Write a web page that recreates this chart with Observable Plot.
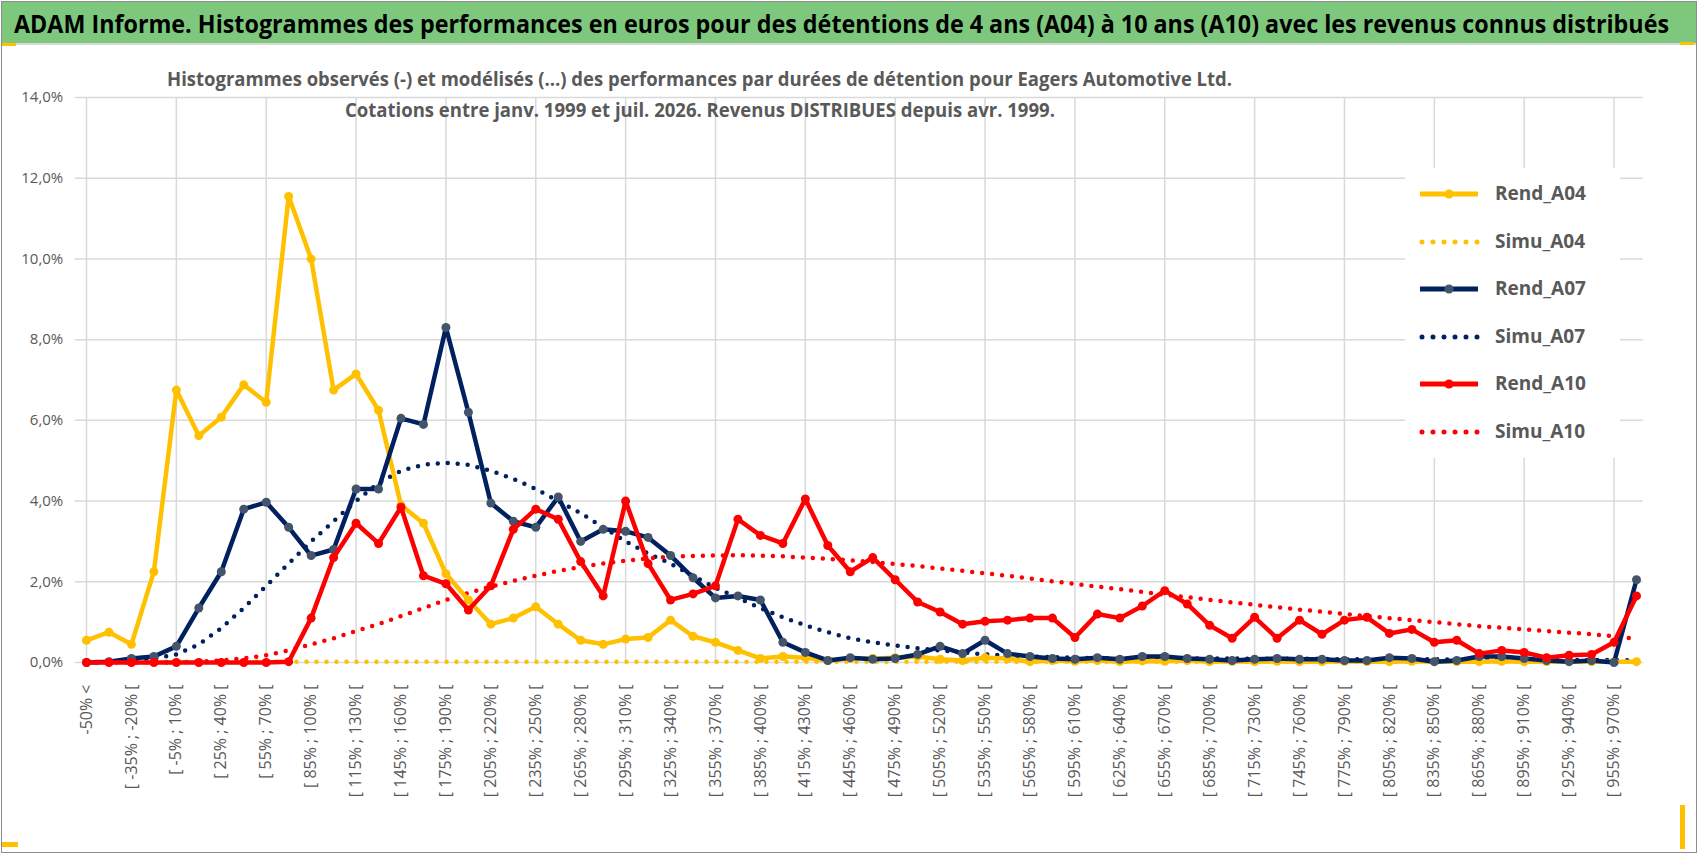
<!DOCTYPE html>
<html><head><meta charset="utf-8">
<script src="https://cdn.jsdelivr.net/npm/d3@7"></script>
<script src="https://cdn.jsdelivr.net/npm/@observablehq/plot@0.6"></script>
<style>
body{margin:0;background:#fff;font-family:"Open Sans",sans-serif;}
#wrap{position:relative;width:1698px;height:854px;overflow:hidden;}
#frame{position:absolute;left:1px;top:1px;width:1694px;height:850px;border:1px solid #8c8c8c;}
#banner{position:absolute;left:2px;top:2px;width:1694px;height:41px;background:#7dc87d;border-bottom:2px solid #d9d9d9;}
#title{position:absolute;left:12px;top:4px;font-weight:bold;font-size:25px;color:#000;white-space:nowrap;transform-origin:0 0;}
#plot{position:absolute;left:0;top:44px;}
#sub{position:absolute;left:0;width:1400px;top:64px;text-align:center;font-weight:bold;font-size:19px;color:#595959;line-height:31px;}
.sl{white-space:nowrap;display:inline-block;transform-origin:50% 0;}
#legend{position:absolute;left:1405px;top:168px;width:215px;height:290px;background:#fff;}
.li{position:absolute;left:13px;height:20px;}
.lt{position:absolute;left:77px;top:-14px;font-weight:bold;font-size:19px;color:#595959;white-space:nowrap;}
.corner{position:absolute;background:#ffc000;}
</style></head><body>
<div id="wrap">
<div id="frame"></div>
<div id="banner"><div id="title">ADAM Informe. Histogrammes des performances en euros pour des détentions de 4 ans (A04) à 10 ans (A10) avec les revenus connus distribués</div></div>
<div class="corner" style="left:2px;top:43px;width:14px;height:3px"></div>
<div class="corner" style="left:2px;top:842px;width:16px;height:5px"></div>
<div class="corner" style="left:1680px;top:805px;width:5px;height:44px"></div>
<div class="corner" style="left:1680px;top:42px;width:14px;height:3px"></div>
<div id="plot"></div>
<div id="sub"><span class="sl" id="s1">Histogrammes observés (-)  et modélisés (…) des performances  par durées de détention pour Eagers Automotive Ltd.</span><br><span class="sl" id="s2">Cotations entre janv. 1999 et juil. 2026. Revenus  DISTRIBUES depuis avr. 1999.</span></div>
<div id="legend"></div>
</div>
<script>
const tickLabels = ["-50% <","[ -35% ; -20% [","[ -5% ; 10% [","[ 25% ; 40% [","[ 55% ; 70% [","[ 85% ; 100% [","[ 115% ; 130% [","[ 145% ; 160% [","[ 175% ; 190% [","[ 205% ; 220% [","[ 235% ; 250% [","[ 265% ; 280% [","[ 295% ; 310% [","[ 325% ; 340% [","[ 355% ; 370% [","[ 385% ; 400% [","[ 415% ; 430% [","[ 445% ; 460% [","[ 475% ; 490% [","[ 505% ; 520% [","[ 535% ; 550% [","[ 565% ; 580% [","[ 595% ; 610% [","[ 625% ; 640% [","[ 655% ; 670% [","[ 685% ; 700% [","[ 715% ; 730% [","[ 745% ; 760% [","[ 775% ; 790% [","[ 805% ; 820% [","[ 835% ; 850% [","[ 865% ; 880% [","[ 895% ; 910% [","[ 925% ; 940% [","[ 955% ; 970% ["];
const yTicks = [0,2,4,6,8,10,12,14];

const rendA04 = [0.55,0.75,0.45,2.25,6.75,5.62,6.08,6.88,6.45,11.55,
 10.0,6.75,7.15,6.25,3.9,3.45,2.2,1.55,0.95,1.1,
 1.38,0.95,0.55,0.45,0.58,0.62,1.05,0.65,0.5,0.3,
 0.1,0.15,0.12,0.05,0.1,0.1,0.12,0.15,0.08,0.05,
 0.12,0.1,0.02,0.05,0.03,0.05,0.02,0.04,0.03,0.05,
 0.02,0.03,0.02,0.03,0.02,0.02,0.03,0.02,0.02,0.03,
 0.02,0.02,0.02,0.03,0.02,0.02,0.02,0.02,0.02,0.02];
const simuA04 = [0.02,0.02,0.02,0.02,0.02,0.02,0.02,0.02,0.02,0.02,
 0.02,0.02,0.02,0.02,0.02,0.02,0.02,0.02,0.02,0.02,
 0.02,0.02,0.02,0.02,0.02,0.02,0.02,0.02,0.02,0.02,
 0.02,0.02,0.02,0.02,0.02,0.02,0.02,0.02,0.02,0.02,
 0.02,0.02,0.02,0.02,0.02,0.02,0.02,0.02,0.02,0.02,
 0.02,0.02,0.02,0.02,0.02,0.02,0.02,0.02,0.02,0.02,
 0.02,0.02,0.02,0.02,0.02,0.02,0.02,0.02,0.02,0.02];
const rendA07 = [0,0.02,0.1,0.15,0.4,1.35,2.25,3.8,3.97,3.35,
 2.65,2.8,4.3,4.3,6.05,5.9,8.3,6.2,3.95,3.5,
 3.35,4.1,3.0,3.3,3.25,3.1,2.65,2.1,1.6,1.65,
 1.55,0.5,0.25,0.05,0.12,0.08,0.1,0.2,0.4,0.22,
 0.55,0.22,0.15,0.1,0.08,0.12,0.08,0.15,0.15,0.1,
 0.08,0.05,0.08,0.1,0.08,0.08,0.05,0.05,0.12,0.1,
 0.02,0.05,0.15,0.15,0.1,0.05,0.02,0.05,0.0,2.05];
const simuA07 = [0,0.02,0.05,0.1,0.2,0.45,0.85,1.35,1.9,2.45,
 3.0,3.5,4.0,4.45,4.75,4.9,4.95,4.9,4.75,4.55,
 4.3,4.0,3.7,3.35,3.0,2.7,2.45,2.15,1.85,1.6,
 1.35,1.12,0.92,0.75,0.6,0.5,0.42,0.35,0.3,0.25,
 0.2,0.17,0.15,0.13,0.12,0.11,0.1,0.1,0.1,0.1,
 0.1,0.1,0.09,0.09,0.09,0.09,0.08,0.08,0.08,0.08,
 0.08,0.07,0.07,0.07,0.07,0.06,0.06,0.06,0.06,0.05];
const rendA10 = [0,0,0,0,0,0,0,0,0,0.02,
 1.1,2.6,3.45,2.95,3.85,2.15,1.95,1.3,1.9,3.3,
 3.8,3.55,2.5,1.65,4.0,2.45,1.55,1.7,1.9,3.55,
 3.15,2.95,4.05,2.9,2.25,2.6,2.05,1.5,1.25,0.95,
 1.02,1.05,1.1,1.1,0.62,1.2,1.1,1.4,1.78,1.45,
 0.92,0.6,1.12,0.6,1.05,0.7,1.05,1.12,0.72,0.82,
 0.5,0.55,0.22,0.3,0.25,0.12,0.18,0.2,0.5,1.65];
const simuA10 = [0,0,0,0,0,0.02,0.05,0.1,0.18,0.3,
 0.45,0.6,0.78,0.95,1.15,1.35,1.55,1.72,1.88,2.02,
 2.15,2.27,2.37,2.45,2.52,2.58,2.62,2.64,2.65,2.66,
 2.65,2.63,2.6,2.57,2.53,2.49,2.44,2.39,2.33,2.27,
 2.21,2.15,2.08,2.01,1.95,1.88,1.82,1.75,1.68,1.62,
 1.55,1.49,1.43,1.37,1.31,1.26,1.2,1.15,1.1,1.05,
 1.0,0.95,0.9,0.86,0.82,0.78,0.74,0.7,0.65,0.58];

const YEL="#ffc000", NAVY="#002060", NAVYPT="#44546a", RED="#ff0000", GRID="#d9d9d9", TXT="#595959";
const pts = a => a.map((v,i)=>({i,v}));
const tickData = tickLabels.map((t,k)=>({i:2*k,t}));
const vGrid = tickLabels.map((t,k)=>4*k).filter(v=>v<=69);
const dotted = (a,c)=>Plot.line(pts(a),{x:"i",y:"v",stroke:c,strokeWidth:4.5,strokeDasharray:"0 10",strokeLinecap:"round"});
const solid = (a,c,pc)=>[Plot.line(pts(a),{x:"i",y:"v",stroke:c,strokeWidth:4.5}),
  Plot.dot(pts(a),{x:"i",y:"v",r:4.5,fill:pc,stroke:null})];

const chart = Plot.plot({
  width:1698, height:810,
  marginLeft:86, marginRight:62, marginTop:53, marginBottom:192,
  x:{type:"linear",domain:[0,69],axis:null},
  y:{domain:[0,14],axis:null},
  style:{fontFamily:"Open Sans, sans-serif",background:"transparent"},
  marks:[
    Plot.ruleY(yTicks,{x1:-0.5,x2:69.3,stroke:GRID,strokeWidth:1.5}),
    Plot.ruleX(vGrid,{y1:0,y2:14,stroke:GRID,strokeWidth:1.5}),
    Plot.text(yTicks,{x:-0.5,y:d=>d,text:d=>d.toFixed(1).replace(".",",")+"%",textAnchor:"end",dx:-12,fill:TXT,fontSize:15}),
    Plot.text(tickData,{x:"i",y:0,text:"t",rotate:-90,textAnchor:"end",dy:22,fill:TXT,fontSize:16}),
    dotted(simuA04,YEL), dotted(simuA07,NAVY), dotted(simuA10,RED),
    ...solid(rendA04,YEL,YEL), ...solid(rendA07,NAVY,NAVYPT), ...solid(rendA10,RED,RED)
  ]
});
document.getElementById("plot").append(chart);

const leg = [["Rend_A04",YEL,false],["Simu_A04",YEL,true],["Rend_A07",NAVY,false],["Simu_A07",NAVY,true],["Rend_A10",RED,false],["Simu_A10",RED,true]];
const L=document.getElementById("legend");
leg.forEach(([n,c,d],k)=>{
  const y=26+k*47.5;
  const svg = d ? `<svg width="62" height="12" style="position:absolute;left:0;top:-6px"><line x1="4" y1="6" x2="60" y2="6" stroke="${c}" stroke-width="5" stroke-dasharray="0 11" stroke-linecap="round"/></svg>`
   : `<svg width="62" height="12" style="position:absolute;left:0;top:-6px"><line x1="2" y1="6" x2="60" y2="6" stroke="${c}" stroke-width="5"/><circle cx="31" cy="6" r="4.5" fill="${c===NAVY?NAVYPT:c}"/></svg>`;
  const div=document.createElement("div"); div.className="li"; div.style.top=y+"px";
  div.innerHTML=svg+`<span class="lt">${n}</span>`; L.append(div);
});
const fit=(el,w)=>{const r=el.getBoundingClientRect().width; el.style.transform=`scaleX(${w/r})`;};
fit(document.getElementById("title"),1655);
fit(document.getElementById("s1"),1065);
fit(document.getElementById("s2"),710);
</script>
</body></html>
